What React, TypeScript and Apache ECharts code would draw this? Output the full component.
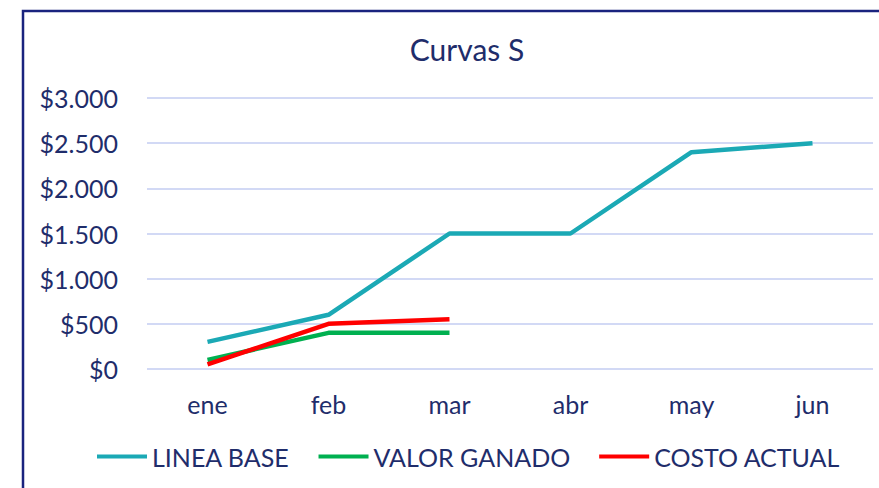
import React, { useEffect, useRef } from "react";
import * as echarts from "echarts";

const months = ["ene", "feb", "mar", "abr", "may", "jun"];
const lineaBase = [300, 600, 1500, 1500, 2400, 2500];
const valorGanado = [100, 400, 400];
const costoActual = [50, 500, 550];
const yTicks = [0, 500, 1000, 1500, 2000, 2500, 3000];

const NAVY = "#1F2D6B";
const FONT = "Lato, 'Open Sans', sans-serif";

function fmt(v: number): string {
  return "$" + String(v).replace(/\B(?=(\d{3})+(?!\d))/g, ".");
}

export default function App() {
  const ref = useRef<HTMLDivElement>(null);
  useEffect(() => {
    if (!ref.current) return;
    const chart = echarts.init(ref.current, null, { renderer: "svg" });
    chart.setOption({
      animation: false,
      backgroundColor: "#ffffff",
      title: {
        text: "Curvas S",
        left: 462,
        top: 29,
        textAlign: "center",
        textStyle: { color: NAVY, fontFamily: FONT, fontSize: 30, fontWeight: "normal" },
      },
      graphic: [
        {
          type: "rect",
          shape: { x: 23, y: 11, width: 900, height: 520 },
          style: { fill: "none", stroke: "#1A237E", lineWidth: 2.5 },
          silent: true,
        },
      ],
      legend: {
        bottom: 14,
        left: 92,
        itemWidth: 50,
        itemHeight: 4,
        itemGap: 29,
        icon: "rect",
        textStyle: { color: NAVY, fontFamily: FONT, fontSize: 25 },
        data: ["LINEA BASE", "VALOR GANADO", "COSTO ACTUAL"],
      },
      grid: { left: 147, right: 6, top: 98, bottom: 119, containLabel: false },
      xAxis: {
        type: "category",
        data: months,
        boundaryGap: true,
        axisLine: { show: false },
        axisTick: { show: false },
        axisLabel: { color: NAVY, fontFamily: FONT, fontSize: 25, margin: 22 },
      },
      yAxis: {
        type: "value",
        min: yTicks[0],
        max: yTicks[yTicks.length - 1],
        interval: 500,
        axisLine: { show: false },
        axisTick: { show: false },
        splitLine: { lineStyle: { color: "#D2D9F5", width: 2 } },
        axisLabel: {
          color: NAVY,
          fontFamily: FONT,
          fontSize: 25,
          margin: 29,
          formatter: (v: number) => fmt(v),
        },
      },
      series: [
        {
          name: "LINEA BASE",
          type: "line",
          data: lineaBase,
          symbol: "none",
          color: "#1BA9B5",
          lineStyle: { width: 4.5, color: "#1BA9B5" },
        },
        {
          name: "VALOR GANADO",
          type: "line",
          data: valorGanado,
          symbol: "none",
          color: "#00B050",
          lineStyle: { width: 4.5, color: "#00B050" },
        },
        {
          name: "COSTO ACTUAL",
          type: "line",
          data: costoActual,
          symbol: "none",
          color: "#FF0000",
          lineStyle: { width: 4.5, color: "#FF0000" },
        },
      ],
    });
    return () => chart.dispose();
  }, []);
  return (
    <div
      ref={ref}
      style={{ position: "fixed", left: 0, top: 0, width: 879, height: 488 }}
    />
  );
}
